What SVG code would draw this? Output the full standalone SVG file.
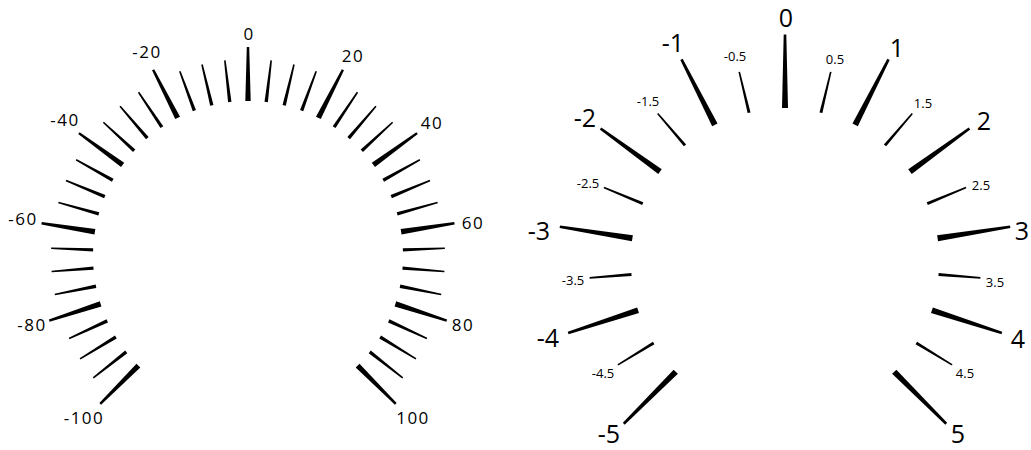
<svg xmlns="http://www.w3.org/2000/svg" width="1031" height="450" viewBox="0 0 1031 450">
<style>
.lbl{font-family:"Open Sans","Liberation Sans",sans-serif;fill:#000;text-anchor:middle}
.l{font-size:17px;letter-spacing:1.5px}
.rM{font-size:25px}
.rm{font-size:13px}
.tk{fill:#000}
</style>
<defs>
<polygon id="LM" class="tk" points="-2.7,-155 2.7,-155 1.2,-209 -1.2,-209"/>
<polygon id="Lm" class="tk" points="-1.7,-155 1.7,-155 0.8,-197 -0.8,-197"/>
<polygon id="RM" class="tk" points="-3,-154.5 3,-154.5 1.3,-228 -1.3,-228"/>
<polygon id="Rm" class="tk" points="-1.5,-154 1.5,-154 0.8,-196 -0.8,-196"/>
</defs>
<rect width="1031" height="450" fill="#fff"/>
<g id="gauge-left">
<g id="gauge-left-ticks" transform="translate(248,256)">
<use href="#LM" transform="rotate(-135)"/>
<use href="#Lm" transform="rotate(-128.25)"/>
<use href="#Lm" transform="rotate(-121.5)"/>
<use href="#Lm" transform="rotate(-114.75)"/>
<use href="#LM" transform="rotate(-108)"/>
<use href="#Lm" transform="rotate(-101.25)"/>
<use href="#Lm" transform="rotate(-94.5)"/>
<use href="#Lm" transform="rotate(-87.75)"/>
<use href="#LM" transform="rotate(-81)"/>
<use href="#Lm" transform="rotate(-74.25)"/>
<use href="#Lm" transform="rotate(-67.5)"/>
<use href="#Lm" transform="rotate(-60.75)"/>
<use href="#LM" transform="rotate(-54)"/>
<use href="#Lm" transform="rotate(-47.25)"/>
<use href="#Lm" transform="rotate(-40.5)"/>
<use href="#Lm" transform="rotate(-33.75)"/>
<use href="#LM" transform="rotate(-27)"/>
<use href="#Lm" transform="rotate(-20.25)"/>
<use href="#Lm" transform="rotate(-13.5)"/>
<use href="#Lm" transform="rotate(-6.75)"/>
<use href="#LM" transform="rotate(0)"/>
<use href="#Lm" transform="rotate(6.75)"/>
<use href="#Lm" transform="rotate(13.5)"/>
<use href="#Lm" transform="rotate(20.25)"/>
<use href="#LM" transform="rotate(27)"/>
<use href="#Lm" transform="rotate(33.75)"/>
<use href="#Lm" transform="rotate(40.5)"/>
<use href="#Lm" transform="rotate(47.25)"/>
<use href="#LM" transform="rotate(54)"/>
<use href="#Lm" transform="rotate(60.75)"/>
<use href="#Lm" transform="rotate(67.5)"/>
<use href="#Lm" transform="rotate(74.25)"/>
<use href="#LM" transform="rotate(81)"/>
<use href="#Lm" transform="rotate(87.75)"/>
<use href="#Lm" transform="rotate(94.5)"/>
<use href="#Lm" transform="rotate(101.25)"/>
<use href="#LM" transform="rotate(108)"/>
<use href="#Lm" transform="rotate(114.75)"/>
<use href="#Lm" transform="rotate(121.5)"/>
<use href="#Lm" transform="rotate(128.25)"/>
<use href="#LM" transform="rotate(135)"/>
</g>
<g id="gauge-left-labels" class="lbl l">
<text x="249" y="40">0</text>
<text x="147" y="58">-20</text>
<text x="353" y="62">20</text>
<text x="65" y="126">-40</text>
<text x="432" y="129">40</text>
<text x="23" y="225">-60</text>
<text x="473" y="229">60</text>
<text x="32" y="331">-80</text>
<text x="463" y="331">80</text>
<text x="84" y="424">-100</text>
<text x="413" y="424">100</text>
</g>
</g>
<g id="gauge-right">
<g id="gauge-right-ticks" transform="translate(785,262.5)">
<use href="#RM" transform="rotate(-135)"/>
<use href="#Rm" transform="rotate(-121.5)"/>
<use href="#RM" transform="rotate(-108)"/>
<use href="#Rm" transform="rotate(-94.5)"/>
<use href="#RM" transform="rotate(-81)"/>
<use href="#Rm" transform="rotate(-67.5)"/>
<use href="#RM" transform="rotate(-54)"/>
<use href="#Rm" transform="rotate(-40.5)"/>
<use href="#RM" transform="rotate(-27)"/>
<use href="#Rm" transform="rotate(-13.5)"/>
<use href="#RM" transform="rotate(0)"/>
<use href="#Rm" transform="rotate(13.5)"/>
<use href="#RM" transform="rotate(27)"/>
<use href="#Rm" transform="rotate(40.5)"/>
<use href="#RM" transform="rotate(54)"/>
<use href="#Rm" transform="rotate(67.5)"/>
<use href="#RM" transform="rotate(81)"/>
<use href="#Rm" transform="rotate(94.5)"/>
<use href="#RM" transform="rotate(108)"/>
<use href="#Rm" transform="rotate(121.5)"/>
<use href="#RM" transform="rotate(135)"/>
</g>
<g id="gauge-right-labels" class="lbl">
<text class="rM" x="786" y="27">0</text>
<text class="rM" x="673" y="52">-1</text>
<text class="rM" x="897" y="57">1</text>
<text class="rM" x="585" y="127">-2</text>
<text class="rM" x="984" y="130">2</text>
<text class="rM" x="539" y="240">-3</text>
<text class="rM" x="1022" y="240">3</text>
<text class="rM" x="548" y="347">-4</text>
<text class="rM" x="1018" y="348">4</text>
<text class="rM" x="609" y="443">-5</text>
<text class="rM" x="958" y="443">5</text>
<text class="rm" x="735" y="61">-0.5</text>
<text class="rm" x="835" y="64">0.5</text>
<text class="rm" x="648" y="106">-1.5</text>
<text class="rm" x="923" y="108">1.5</text>
<text class="rm" x="588" y="188">-2.5</text>
<text class="rm" x="981" y="190">2.5</text>
<text class="rm" x="573" y="285">-3.5</text>
<text class="rm" x="995" y="287">3.5</text>
<text class="rm" x="603" y="378">-4.5</text>
<text class="rm" x="965" y="378">4.5</text>
</g>
</g>
</svg>
